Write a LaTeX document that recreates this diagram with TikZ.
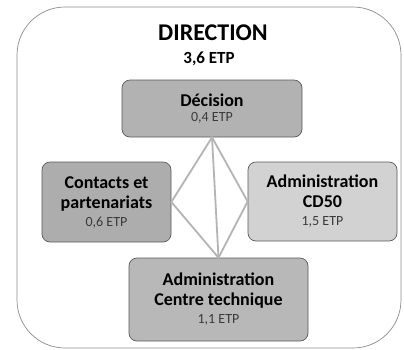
\documentclass[tikz,border=0pt]{standalone}
\usepackage{fontspec}
\setmainfont{Carlito}
\definecolor{framegray}{HTML}{8C8C8C}
\definecolor{boxline}{HTML}{5A5A5A}
\definecolor{linkgray}{HTML}{B4B4B4}
\definecolor{etpgray}{HTML}{3A3A3A}
\newcommand{\etp}[1]{{\mdseries\fontsize{14}{16}\selectfont\color{etpgray}#1}}
\begin{document}
\begin{tikzpicture}[
        x=1pt, y=-1pt,
        frame/.style={
            draw=framegray, 
            fill=white, 
            rounded corners=48pt, 
            line width=0.7pt
        },
        unit/.style={
            rectangle, 
            draw=boxline, 
            rounded corners=8pt, 
            line width=0.7pt, 
            inner sep=0pt, 
            align=center, 
            font=\bfseries\fontsize{18}{20}\selectfont
        },
        link/.style={
            draw=linkgray, 
            line width=1.8pt
        },
        heading/.style={
            font=\bfseries\fontsize{24}{28}\selectfont
        }
    ]
    \useasboundingbox (0,0) rectangle (404,349);

    % --- Outer frame ---
    \draw[frame] (17,7) rectangle (401,348);
    \node[heading] (direction) at (213,33) {DIRECTION};
    \node[font=\bfseries\fontsize{17}{20}\selectfont] (total) at (209,58.5) {3,6 ETP};

    % --- Units ---
    \node[unit, fill=gray!60, minimum width=180pt, minimum height=57pt] (decision) at (212,108.5) {D\'ecision\\[-5pt]\etp{0,4 ETP}};
    \node[unit, fill=gray!64, minimum width=129pt, minimum height=80pt] (contacts) at (106.5,202) {Contacts et\\partenariats\\[-2pt]\etp{0,6 ETP}};
    \node[unit, fill=gray!35, minimum width=149pt, minimum height=79pt] (cd) at (322.5,201.5) {Administration\\CD50\\[-2pt]\etp{1,5 ETP}};
    \node[unit, fill=gray!56, minimum width=179pt, minimum height=83pt] (centre) at (218.5,299.5) {Administration\\Centre technique\\[-2pt]\etp{1,1 ETP}};

    % Links
    \draw[link] (decision.south) -- (contacts.east) -- (centre.north) -- (cd.west) -- cycle;
    \draw[link] (decision.south) -- (centre.north);

    \end{tikzpicture}
\end{document}
